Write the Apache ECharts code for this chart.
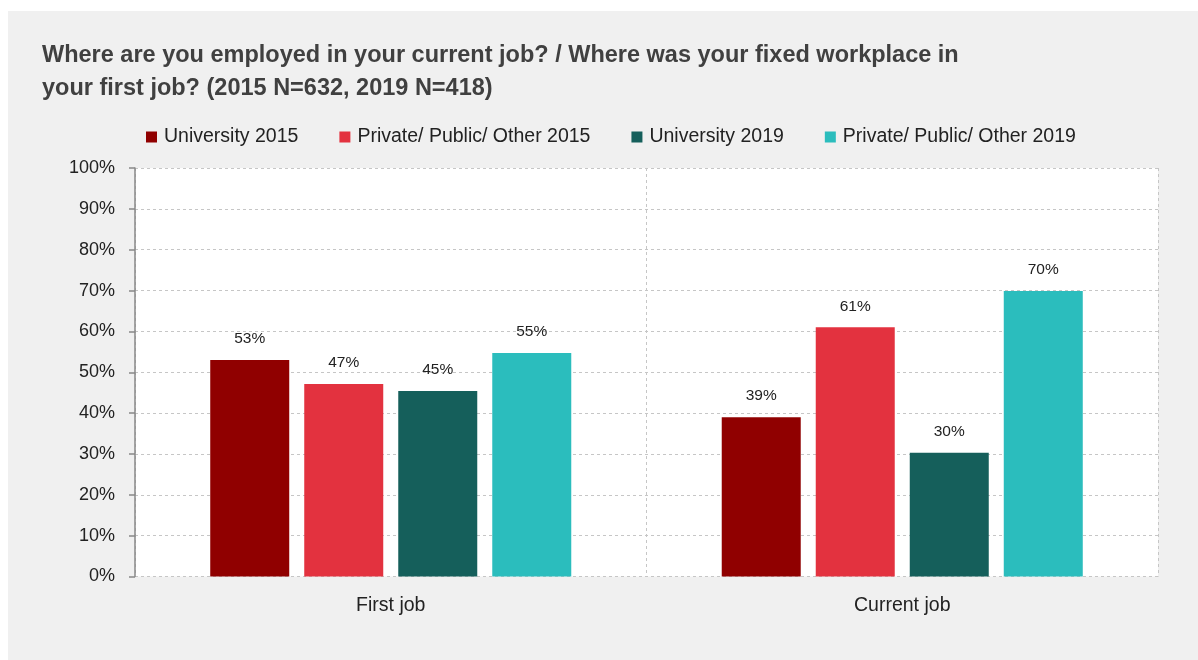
<!DOCTYPE html>
<html>
<head>
<meta charset="utf-8">
<script src="https://cdn.jsdelivr.net/npm/echarts@6/dist/echarts.min.js"></script>
<style>
  html, body { margin: 0; padding: 0; background: #ffffff; }
  #bg { position: absolute; left: 8px; top: 11px; width: 1190px; height: 649px; background: #f0f0f0; }
  #chart { position: absolute; left: 0; top: 0; width: 1198px; height: 660px; }
</style>
</head>
<body>
<div id="bg"></div>
<div id="chart"></div>
<script>
const titleText = 'Where are you employed in your current job? / Where was your fixed workplace in\nyour first job? (2015 N=632, 2019 N=418)';
const categories = ['First job', 'Current job'];
const seriesNames = ['University 2015', 'Private/ Public/ Other 2015', 'University 2019', 'Private/ Public/ Other 2019'];
const university2015 = [53.0, 39.0];
const other2015 = [47.1, 61.0];
const university2019 = [45.4, 30.3];
const other2019 = [54.7, 69.9];
const colors = ['#900000', '#e3323f', '#155f5b', '#2bbdbd'];
const yTicks = [0, 10, 20, 30, 40, 50, 60, 70, 80, 90, 100];

const font = 'Liberation Sans, Arial, sans-serif';
const values = [university2015, other2015, university2019, other2019];

const chart = echarts.init(document.getElementById('chart'), null, { renderer: 'canvas' });
chart.setOption({
  animation: false,
  textStyle: { fontFamily: font },
  title: {
    text: titleText,
    left: 37,
    top: 34,
    textStyle: { fontFamily: font, fontSize: 23.5, fontWeight: 'bold', color: '#404040', lineHeight: 33 }
  },
  legend: {
    top: 122,
    left: 141,
    itemWidth: 11,
    itemHeight: 11,
    itemGap: 41,
    icon: 'rect',
    textStyle: { fontFamily: font, fontSize: 19.5, color: '#222', padding: [0, 0, 0, 2] },
    data: seriesNames
  },
  grid: { left: 135, right: 40, top: 168, bottom: 83.5, containLabel: false, show: true, backgroundColor: '#ffffff', borderWidth: 0 },
  xAxis: {
    type: 'category',
    data: categories,
    axisLine: { show: false },
    axisTick: { show: false },
    axisLabel: { fontFamily: font, fontSize: 19.5, color: '#222', margin: 19 },
    splitLine: { show: true, lineStyle: { type: [3, 3], color: '#c6c6c6', width: 1 } }
  },
  yAxis: {
    type: 'value',
    min: 0,
    max: 100,
    interval: 10,
    axisLine: { show: true, lineStyle: { color: '#888', width: 1.5 } },
    axisTick: { show: true, length: 6, lineStyle: { color: '#888', width: 1.5 } },
    axisLabel: {
      fontFamily: font, fontSize: 18, color: '#222', margin: 20,
      formatter: v => yTicks.includes(v) ? v + '%' : ''
    },
    splitLine: { show: true, lineStyle: { type: [3, 3], color: '#c6c6c6', width: 1 } }
  },
  series: seriesNames.map((name, i) => ({
    name: name,
    type: 'bar',
    data: values[i],
    barWidth: 79,
    barGap: '19%',
    itemStyle: { color: colors[i] },
    label: {
      show: true,
      position: 'top',
      distance: 13,
      fontFamily: font,
      fontSize: 15.5,
      color: '#222',
      formatter: p => Math.round(p.value) + '%'
    }
  }))
});
</script>
</body>
</html>
